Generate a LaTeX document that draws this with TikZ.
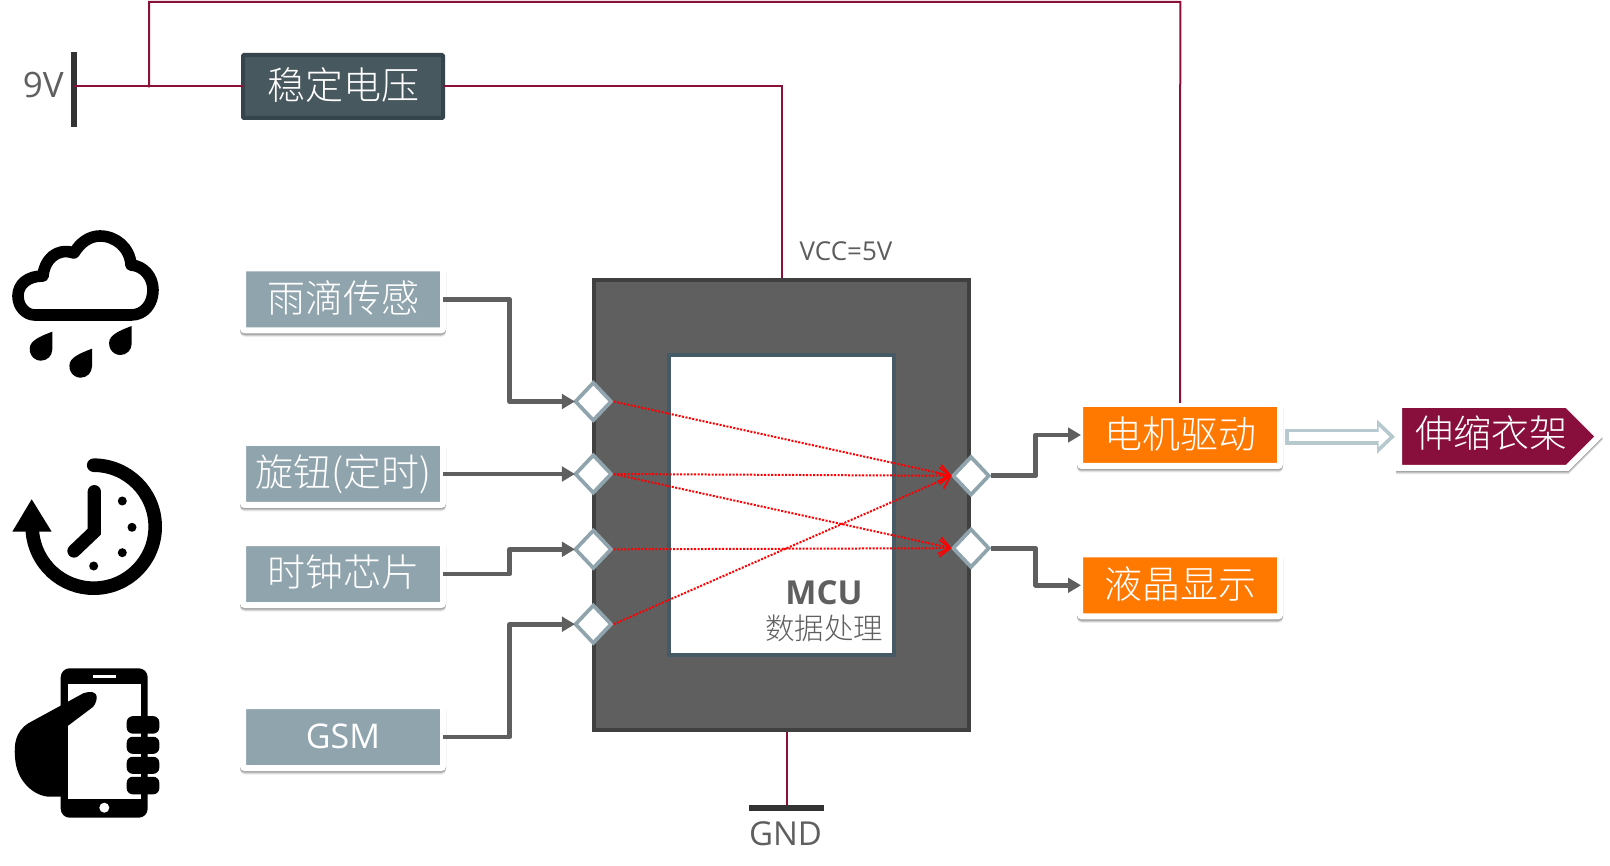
\documentclass[tikz,border=0pt]{standalone}
\usepackage{fontspec}
\setmainfont{Open Sans}
\newfontfamily\cjk{Noto Sans CJK SC}[UprightFont=* Light]
\newfontfamily\opens{Open Sans}
\newfontfamily\opensb{Open Sans}[UprightFont=* Bold]
\usetikzlibrary{shapes.geometric,shadows,arrows.meta}
\definecolor{wirered}{HTML}{8A1038}
\definecolor{slate}{HTML}{90A4AE}
\definecolor{panel}{HTML}{5F5F5F}
\definecolor{panelb}{HTML}{404040}
\definecolor{innerb}{HTML}{455A64}
\definecolor{reg}{HTML}{48585F}
\definecolor{regb}{HTML}{36444B}
\definecolor{motor}{HTML}{FF7800}
\definecolor{rackc}{HTML}{880F3B}
\definecolor{hollow}{HTML}{B5C9CF}
\definecolor{bar}{HTML}{333333}
\tikzset{
  softshadow/.style={
    general shadow={draw=black,fill=black,opacity=.08,shadow yshift=-3.5pt},
    general shadow={draw=black,fill=black,opacity=.12,shadow yshift=-2.5pt},
    general shadow={draw=black,fill=black,opacity=.18,shadow yshift=-1.5pt}},
  card/.style={line width=6pt,draw=white,rounded corners=2pt,softshadow,inner sep=0pt,
    minimum width=200pt,minimum height=62pt,text=white,
    font=\cjk\fontsize{38}{40}\selectfont},
  inputcard/.style={card,fill=slate},
  outcard/.style={card,fill=motor},
  regcard/.style={draw=regb,fill=reg,line width=4pt,rounded corners=1pt,inner sep=0pt,
    minimum width=200pt,minimum height=63pt,text=white,
    font=\cjk\fontsize{38}{40}\selectfont},
  port/.style={diamond,draw=slate,fill=white,line width=3.7pt,inner sep=0pt,aspect=1,
    minimum width=37pt,minimum height=39pt},
  power/.style={draw=wirered,line width=2pt},
  signalw/.style={draw=panel,line width=4.6pt,line join=round,
    -{Triangle[length=13pt,width=14.5pt]}},
  logic/.style={draw=red,line width=2pt,dash pattern=on 2pt off 1.5pt,
    -{Straight Barb[length=11pt,width=17pt,line width=1.8pt]}},
  railbar/.style={fill=bar,inner sep=0pt},
  caption/.style={text=panel,inner sep=0pt},
}
\newcommand{\raindrop}[2]{\fill[black] (#1,#2) -- ++(0,17.7) arc[start angle=0,end angle=185,radius=11.3]
  .. controls (#1-22.6,#2+9) and (#1-12,#2+4.5) .. (#1,#2) -- cycle;}
\newcommand{\rackoutline}{(1399,405) -- (1567,405) -- (1598.5,436.5) -- (1567,468) -- (1399,468) -- cycle}
\begin{document}
\begin{tikzpicture}[x=1pt,y=-1pt]
\useasboundingbox (0,0) rectangle (1610,866);

% MCU
\node[draw=panelb,fill=panel,line width=3.7pt,minimum width=374.8pt,minimum height=450pt,inner sep=0pt] (mcu) at (781.6,505) {};
\node[draw=innerb,fill=white,line width=3.7pt,minimum width=225pt,minimum height=300pt,inner sep=0pt] (core) at (781.5,505) {};
\node[font=\opensb\fontsize{33}{35}\selectfont,caption] (mcutxt) at (824,593) {MCU};
\node[font=\cjk\fontsize{29.5}{31}\selectfont,caption] (mcusub) at (824,628) {数据处理};

% rails
\node[railbar,minimum width=6pt,minimum height=75pt] (v9) at (74,89.5) {};
\node[caption,anchor=east,font=\opens\fontsize{35}{37}\selectfont] (v9txt) at (64,85.5) {9V};
\node[railbar,minimum width=75pt,minimum height=6pt] (gnd) at (786.5,808) {};
\node[caption,font=\opens\fontsize{33}{35}\selectfont] (gndtxt) at (785.5,834) {GND};
\node[caption,text=panelb!85!white,font=\opens\fontsize{26}{28}\selectfont] (vcc) at (846,251) {VCC=5V};

% boxes
\node[regcard] (regu) at (343,86.5) {\raisebox{5pt}{稳定电压}};
\node[inputcard] (rain) at (343,299.3) {\raisebox{6pt}{雨滴传感}};
\node[inputcard] (knob) at (343,474) {\raisebox{6pt}{旋钮(定时)}};
\node[inputcard] (rtc) at (343,574) {\raisebox{6pt}{时钟芯片}};
\node[inputcard,font=\opens\fontsize{34}{36}\selectfont] (gsm) at (343,737) {\raisebox{2.5pt}{GSM}};
\node[outcard] (drive) at (1180,435) {\raisebox{5pt}{电机驱动}};
\node[outcard] (lcd) at (1180,585.3) {\raisebox{6pt}{液晶显示}};

% rack (pentagon)
\begin{scope}[yshift=-3.5pt]\path[fill=black,draw=black,line width=6pt,opacity=.08] \rackoutline;\end{scope}
\begin{scope}[yshift=-2.5pt]\path[fill=black,draw=black,line width=6pt,opacity=.12] \rackoutline;\end{scope}
\begin{scope}[yshift=-1.5pt]\path[fill=black,draw=black,line width=6pt,opacity=.18] \rackoutline;\end{scope}
\path[fill=rackc,draw=white,line width=6pt,line join=miter] \rackoutline;
\node[text=white,font=\cjk\fontsize{38}{40}\selectfont,inner sep=0pt] (rack) at (1491,433) {伸缩衣架};
\coordinate (rackw) at (1395,436.7);

% ports
\node[port] (l1) at (593.3,401.5) {};
\node[port] (l2) at (593.3,474) {};
\node[port] (l3) at (593.3,549.3) {};
\node[port] (l4) at (593.3,624.2) {};
\node[port] (r1) at (971,475.8) {};
\node[port] (r2) at (971,548.2) {};

% power wires
\draw[power] (v9.center |- regu.west) -- ([xshift=2pt]regu.west);
\draw[power] (149,87.5) -- (149,2) -- (1180.3,2) -- ([yshift=-2pt]drive.north);
\draw[power] ([xshift=-2pt]regu.east) -| (mcu.north);
\draw[power] (gnd.north) -- (gnd.north |- mcu.south);

% signal wires
\draw[signalw] ([xshift=-3pt]rain.east) -- (509.7,299.3) |- ([xshift=2pt]l1.west);
\draw[signalw] ([xshift=-3pt]knob.east) -- ([xshift=2pt]l2.west);
\draw[signalw] ([xshift=-3pt]rtc.east) -- (509.7,574) |- ([xshift=2pt]l3.west);
\draw[signalw] ([xshift=-3pt]gsm.east) -- (509.7,737) |- ([xshift=2pt]l4.west);
\draw[signalw] (r1.east) -- (1035.7,475.8) |- ([xshift=4pt]drive.west);
\draw[signalw] (r2.east) -- (1035.7,548.2) |- ([xshift=4pt]lcd.west);

% logic
\draw[logic] (l1.east) -- ([xshift=1pt]r1.west);
\draw[logic] (l2.east) -- ([xshift=1pt]r1.west);
\draw[logic] (l2.east) -- ([xshift=1pt]r2.west);
\draw[logic] (l3.east) -- ([xshift=1pt]r2.west);
\draw[logic] (l4.east) -- ([xshift=1pt]r1.west);

% hollow arrow
\draw[hollow,line width=16pt,-{Triangle[length=18pt,width=33pt]}] ([xshift=2pt]drive.east |- rackw) -- (rackw);
\draw[white,line width=8.6pt,-{Triangle[length=11pt,width=20pt]}] ([xshift=5.7pt]drive.east |- rackw) -- ([xshift=-5.5pt]rackw);

% cloud icon
\draw[black,line width=11.6pt,line join=round]
  (35,315) -- (131,315) .. controls (145,315) and (153,303) .. (153,290)
  .. controls (153,277) and (144,266) .. (131,265)
  .. controls (130,248) and (116,236) .. (100,236)
  .. controls (89,236) and (80,243) .. (74,253)
  .. controls (56,247) and (44,261) .. (43,276)
  .. controls (28,276) and (18,284) .. (18,296)
  .. controls (18,307) and (26,315) .. (35,315) -- cycle;
\raindrop{52.3}{331.7}
\raindrop{92}{348.7}
\raindrop{131.7}{326}

% clock icon
\draw[black,line width=13.6pt,line cap=round] (93.7,465.2) arc[start angle=-90,end angle=175,radius=61.5];
\fill[black] (12.3,531.7) -- (51.7,531.7) -- (31.7,499.3) -- cycle;
\draw[black,line width=13.3pt,line cap=round,line join=miter] (94.3,491.7) -- (94.3,531.7) -- (74,551);
\fill[black] (122.3,501) circle[radius=4.5] (132,527.3) circle[radius=4.5]
  (122.3,552.7) circle[radius=4.5] (93.7,566) circle[radius=4.5];

% phone icon
\fill[black,rounded corners=9pt] (60.7,668.3) rectangle (147.7,817.7);
\fill[white] (67.7,684.3) rectangle (141,799.3);
\fill[white] (92.7,675.3) rectangle (116,677.7);
\fill[white] (104.3,807.7) circle[radius=5];
\fill[black] (83.3,693.3) -- (28.3,723.3) .. controls (15,732) and (14,745) .. (15,756.7)
  .. controls (16,782) and (35,796.7) .. (50,796.7) -- (67.7,796.7) -- (67.7,726) -- (93.3,706.7)
  .. controls (98.3,700) and (100,688) .. (83.3,693.3) -- cycle;
\fill[black,rounded corners=6pt] (126.7,716.2) rectangle (159.3,733.6);
\fill[black,rounded corners=6pt] (126.7,736.8) rectangle (159.3,753.8);
\fill[black,rounded corners=6pt] (126.7,756.8) rectangle (159.3,773.8);
\fill[black,rounded corners=6pt] (126.7,776.8) rectangle (159.3,794.3);
\end{tikzpicture}
\end{document}
